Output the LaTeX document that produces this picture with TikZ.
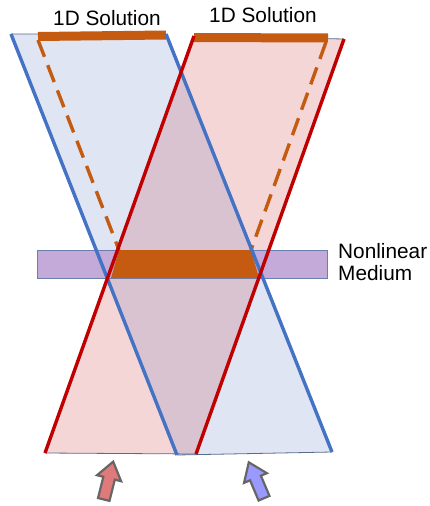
\documentclass[tikz,border=0pt]{standalone}
\usepackage{fontspec}
\setmainfont{Liberation Sans}
\usetikzlibrary{shapes.arrows}
\definecolor{bluefill}{HTML}{DFE5F3}
\definecolor{redfill}{HTML}{F5D6D7}
\definecolor{overfill}{HTML}{DAC3D0}
\definecolor{blueline}{HTML}{4472C4}
\definecolor{redline}{HTML}{C00000}
\definecolor{thinedge}{HTML}{5B6B8C}
\definecolor{medfill}{HTML}{C3AAD8}
\definecolor{medline}{HTML}{6A7FB0}
\definecolor{orange}{HTML}{C55A11}
\definecolor{arrowred}{HTML}{E07A7A}
\definecolor{arrowblue}{HTML}{9999FF}
\definecolor{arrowedge}{HTML}{666666}
\tikzset{
  edgeline/.style={line width=3.4pt},
  thinline/.style={line width=0.8pt, draw=thinedge},
  dashline/.style={draw=orange, line width=3.4pt, dash pattern=on 18pt off 9pt},
  barline/.style={draw=orange, line width=9pt},
  lbl/.style={font=\fontsize{20.8}{22}\selectfont, inner sep=0pt},
  beam/.style={single arrow, draw=arrowedge, line width=2.2pt, inner sep=4.8pt,
    single arrow head extend=6.5pt, single arrow tip angle=72,
    minimum height=39pt, anchor=center}
}
\begin{document}
\begin{tikzpicture}[x=1pt,y=-1pt]
\useasboundingbox (0,0) rectangle (429,506);
% corners
\coordinate (b1) at (11,34);
\coordinate (b2) at (166,34);
\coordinate (b3) at (332,452);
\coordinate (b4) at (177,455);
\coordinate (r1) at (194,36);
\coordinate (r2) at (344,39);
\coordinate (r3) at (196,454);
\coordinate (r4) at (45,453);
% fills
\fill[bluefill] (b1) -- (b2) -- (b3) -- (b4) -- cycle;
\fill[redfill] (r1) -- (r2) -- (r3) -- (r4) -- cycle;
\begin{scope}
  \clip (b1) -- (b2) -- (b3) -- (b4) -- cycle;
  \fill[overfill] (r1) -- (r2) -- (r3) -- (r4) -- cycle;
\end{scope}
\draw[thinline] (b1) -- (b2) (b3) -- (b4);
\draw[thinline] (r1) -- (r2) (r3) -- (r4);
% medium
\node[draw=medline, fill=medfill, line width=0.8pt, inner sep=0pt,
      minimum width=290pt, minimum height=28pt] (med) at (182,264) {};
\fill[orange] (119,250) -- (251,250) -- (259,278) -- (111,278) -- cycle;
% dashed
\coordinate (dl1) at (38,40);
\coordinate (dl2) at (119,250);
\coordinate (dr1) at (326,42);
\coordinate (dr2) at (251,250);
\draw[dashline] (dl1) -- (dl2);
\draw[dashline] (dr1) -- (dr2);
% bars
\coordinate (bl1) at (38,36.5);
\coordinate (bl2) at (166,35);
\coordinate (br1) at (194,37.5);
\coordinate (br2) at (328,38);
\draw[barline] (bl1) -- (bl2);
\draw[barline] (br1) -- (br2);
% thick edges
\draw[edgeline, blueline] (b1) -- (b4);
\draw[edgeline, blueline] (b2) -- (b3);
\draw[edgeline, redline] (r1) -- (r4);
\draw[edgeline, redline] (r2) -- (r3);
% labels
\node[lbl, anchor=base] (sol1) at (107,25.5) {1D Solution};
\node[lbl, anchor=base] (sol2) at (263,23) {1D Solution};
\node[lbl, anchor=base west] (nl) at (338,258.3) {Nonlinear};
\node[lbl, anchor=base west] (md) at (338,280.5) {Medium};
% arrows
\node[beam, fill=arrowred, rotate=76] (ar) at (107.5,484.5) {};
\node[beam, fill=arrowblue, rotate=113] (ab) at (258,484) {};
\end{tikzpicture}
\end{document}
